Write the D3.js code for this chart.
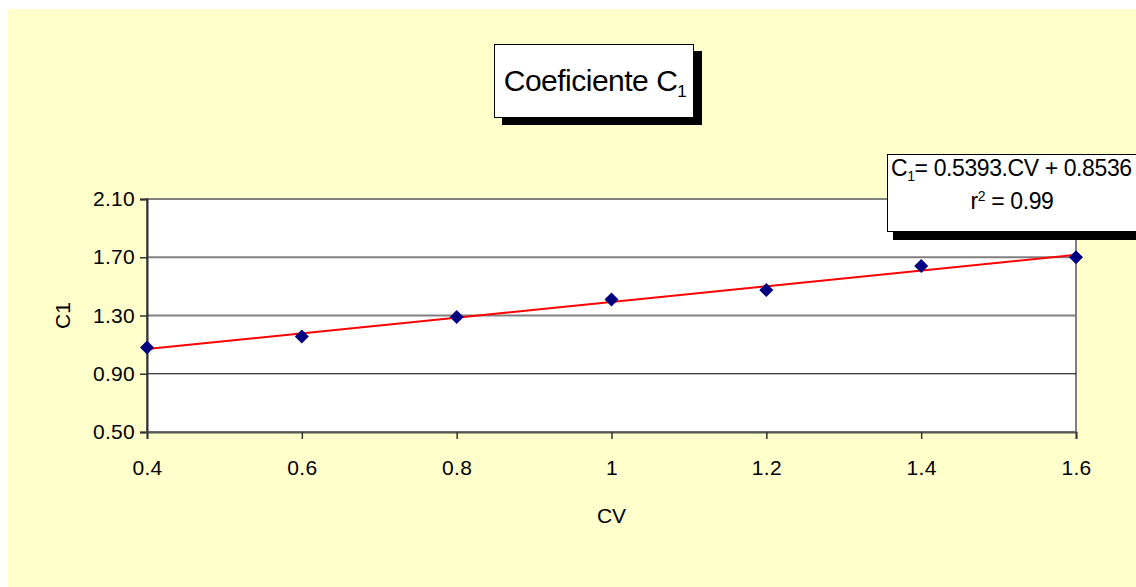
<!DOCTYPE html>
<html>
<head>
    <meta charset="utf-8">
    <style>
        html, body { padding: 0; margin: 0; background: #fff; overflow: hidden; }
        svg { display: block; font-family: "Liberation Sans", Arial, sans-serif; }
    </style>
</head>
<body>
    <div id="chart"></div>
    <script src="https://cdn.jsdelivr.net/npm/d3@7/dist/d3.min.js"></script>
    <script>
        // data
        const cv = [0.4, 0.6, 0.8, 1.0, 1.2, 1.4, 1.6];
        const c1 = [1.08, 1.155, 1.29, 1.41, 1.475, 1.64, 1.70];
        const yTicks = [0.5, 0.9, 1.3, 1.7, 2.1];
        const xTicks = [0.4, 0.6, 0.8, 1, 1.2, 1.4, 1.6];
        const slope = 0.5393, intercept = 0.8536;

        const width = 1136, height = 587;
        const plot = { left: 147, right: 1076, top: 199, bottom: 432 };

        const svg = d3.select('#chart').append('svg')
            .attr('width', width)
            .attr('height', height);

        // chart background
        svg.append('rect')
            .attr('x', 8).attr('y', 9)
            .attr('width', width - 8).attr('height', height - 9)
            .attr('fill', '#ffffcc');

        const x = d3.scaleLinear().domain([0.4, 1.6]).range([plot.left, plot.right]);
        const y = d3.scaleLinear().domain([0.5, 2.1]).range([plot.bottom, plot.top]);

        svg.append('rect')
            .attr('x', plot.left).attr('y', plot.top)
            .attr('width', plot.right - plot.left)
            .attr('height', plot.bottom - plot.top)
            .attr('fill', '#fff')
            .attr('stroke', '#808080')
            .attr('stroke-width', 2);

        // grid
        svg.append('g')
            .selectAll('line')
            .data(yTicks)
            .join('line')
            .attr('x1', plot.left).attr('x2', plot.right)
            .attr('y1', d => y(d)).attr('y2', d => y(d))
            .attr('stroke', d => d === 0.9 ? '#000' : '#808080')
            .attr('stroke-width', d => d === 0.9 ? 1 : 2);

        // axes
        const yAxis = svg.append('g')
            .attr('transform', `translate(${plot.left},0)`)
            .call(d3.axisLeft(y).tickValues(yTicks).tickFormat(d3.format('.2f')).tickSize(7).tickPadding(5));
        const xAxis = svg.append('g')
            .attr('transform', `translate(0,${plot.bottom})`)
            .call(d3.axisBottom(x).tickValues(xTicks).tickFormat(d => d3.format('')(+d.toFixed(1))).tickSize(7).tickPadding(21));

        [yAxis, xAxis].forEach(g => {
            g.select('.domain').attr('stroke', '#333').attr('stroke-width', 2);
            g.selectAll('.tick line').attr('stroke', '#333').attr('stroke-width', 1.5);
            g.selectAll('.tick text')
                .attr('fill', '#000')
                .style('font-size', '21px')
                .style('letter-spacing', '0.3px')
                .style('font-family', '"Liberation Sans", Arial, sans-serif');
        });
        xAxis.select('.domain').attr('stroke', '#555');

        // trend line
        const fit = d => slope * d + intercept;
        svg.append('line')
            .attr('x1', x(0.4)).attr('y1', y(fit(0.4)))
            .attr('x2', x(1.6)).attr('y2', y(fit(1.6)))
            .attr('stroke', '#ff0000')
            .attr('stroke-width', 2);

        // markers
        svg.append('g')
            .selectAll('path')
            .data(cv.map((d, i) => [d, c1[i]]))
            .join('path')
            .attr('transform', d => `translate(${x(d[0])},${y(d[1])})`)
            .attr('d', 'M0,-7L7,0L0,7L-7,0Z')
            .attr('fill', '#000080');

        // axis titles
        svg.append('text')
            .attr('x', (plot.left + plot.right) / 2)
            .attr('y', 523)
            .attr('text-anchor', 'middle')
            .style('font-size', '21px')
            .text('CV');
        svg.append('text')
            .attr('transform', `translate(70,${(plot.top + plot.bottom) / 2}) rotate(-90)`)
            .attr('text-anchor', 'middle')
            .style('font-size', '21px')
            .text('C1');

        // title box
        svg.append('rect').attr('x', 502).attr('y', 51).attr('width', 200).attr('height', 74).attr('fill', '#000');
        svg.append('rect').attr('x', 494.5).attr('y', 44.5).attr('width', 199).attr('height', 73)
            .attr('fill', '#fff').attr('stroke', '#000').attr('stroke-width', 1);
        const title = svg.append('text')
            .attr('x', 595).attr('y', 91)
            .attr('text-anchor', 'middle')
            .style('font-size', '30px')
            .style('letter-spacing', '-0.5px');
        title.append('tspan').text('Coeficiente C');
        title.append('tspan').attr('dy', 6).style('font-size', '17px').text('1');

        // equation box
        svg.append('rect').attr('x', 893).attr('y', 162).attr('width', 260).attr('height', 78).attr('fill', '#000');
        svg.append('rect').attr('x', 887.5).attr('y', 154.5).attr('width', 260).attr('height', 77)
            .attr('fill', '#fff').attr('stroke', '#000').attr('stroke-width', 1);
        const eq = svg.append('text')
            .attr('x', 891).attr('y', 176)
            .style('font-size', '23px')
            .style('letter-spacing', '-0.4px');
        eq.append('tspan').text('C');
        eq.append('tspan').attr('dy', 5).style('font-size', '14px').text('1');
        eq.append('tspan').attr('dy', -5).text('= 0.5393.CV + 0.8536');
        const r2 = svg.append('text')
            .attr('x', 1012).attr('y', 209)
            .attr('text-anchor', 'middle')
            .style('font-size', '23px')
            .style('letter-spacing', '-0.4px');
        r2.append('tspan').text('r');
        r2.append('tspan').attr('dy', -8).style('font-size', '14px').text('2');
        r2.append('tspan').attr('dy', 8).text(' = 0.99');
    </script>
</body>
</html>
